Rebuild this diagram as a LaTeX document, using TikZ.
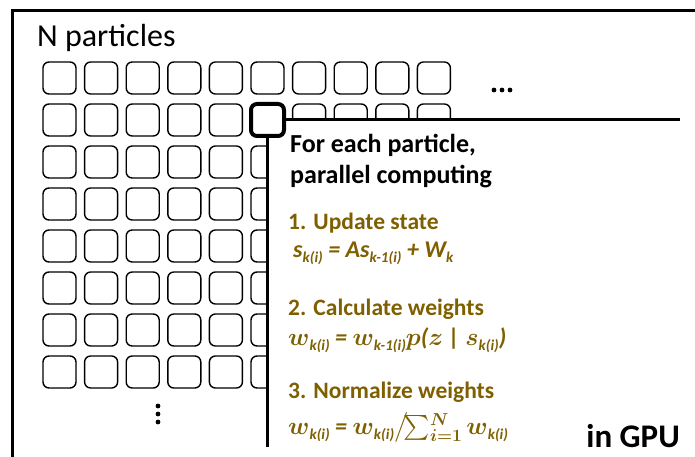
\documentclass[tikz,border=0pt]{standalone}
\usepackage{amsmath}
\usepackage{fontspec}
\setmainfont{Carlito}
\usepackage{tikz}
\usetikzlibrary{positioning}
\definecolor{stepolive}{HTML}{7F6000}
\tikzset{
  cell/.style  ={rectangle, rounded corners=6pt, draw=black, line width=1.4pt, fill=white,
                 minimum width=33pt, minimum height=32pt, inner sep=0pt},
  cellhl/.style={cell, line width=4pt},
  frame/.style ={line width=3pt},
  head/.style  ={anchor=base west, inner sep=0pt, font=\bfseries\fontsize{26}{30}\selectfont},
  stephd/.style={anchor=base west, inner sep=0pt, text=stepolive,
                 font=\bfseries\fontsize{23.5}{28}\selectfont},
  eqn/.style   ={stephd, font=\bfseries\itshape\fontsize{24}{28}\selectfont},
}
\newcommand{\lo}[1]{\raisebox{-5pt}{\fontsize{15}{15}\selectfont #1}}
\newcommand{\mv}[1]{{\boldmath$#1$}}

\begin{document}
\begin{tikzpicture}[x=1pt,y=-1pt]
  \useasboundingbox (0,0) rectangle (695,457);
  % outer frame, open to the right and bottom
  \draw[frame] (12,457) |- (695,11);
  \node[anchor=base west, inner sep=0pt, font=\fontsize{32}{36}\selectfont] (title) at (37,47) {N particles};
  % particle grid
  \foreach \r in {1,...,8}
    \foreach \c in {1,...,10}
      \node[cell] (p-\r-\c) at ({59.5+41.6*(\c-1)},{78+42*(\r-1)}) {};
  \foreach \d in {0,1,2} {
    \fill (494+8*\d,90) circle (2.4pt);
    \fill (158,406+8*\d) circle (2.4pt);
  }
  % per-particle panel
  \fill[white] (p-2-6.center) rectangle (695,457);
  \node[cellhl] (hl) at (p-2-6) {};
  \coordinate (panelend) at (680,120);
  \coordinate (panelfoot) at (hl.south |- 0,447);
  \draw[frame] (hl.east) -- (panelend);
  \draw[frame] (hl.south) -- (panelfoot);
  \node[head] (t1) at (290,153) {For each particle,};
  \node[head] (t2) at (290,183) {parallel computing};
  \node[stephd] (s1) at (288,229) {1. Update state};
  \node[eqn] (e1) at (293,257) {s\lo{k(i)} = As\lo{k-1(i)} + W\lo{k}};
  \node[stephd] (s2) at (288,315) {2. Calculate weights};
  \node[eqn] (e2) at (288,345) {\mv{w}\lo{k(i)} = \mv{w}\lo{k-1(i)}\mv{p}(\mv{z} | \mv{s}\lo{k(i)})};
  \node[stephd] (s3) at (288,398) {3. Normalize weights};
  \node[eqn] (e3) at (288,434) {\mv{w}\lo{k(i)} = \mv{w}\lo{k(i)}\mv{\big/\!\!\sum\nolimits_{i=1}^{\raisebox{-3pt}{$\scriptstyle N$}}}\,\mv{w}\lo{k(i)}};
  \node[anchor=base east, inner sep=0pt, font=\bfseries\fontsize{33}{36}\selectfont] (gpu) at (680,447) {in GPU};
\end{tikzpicture}
\end{document}
